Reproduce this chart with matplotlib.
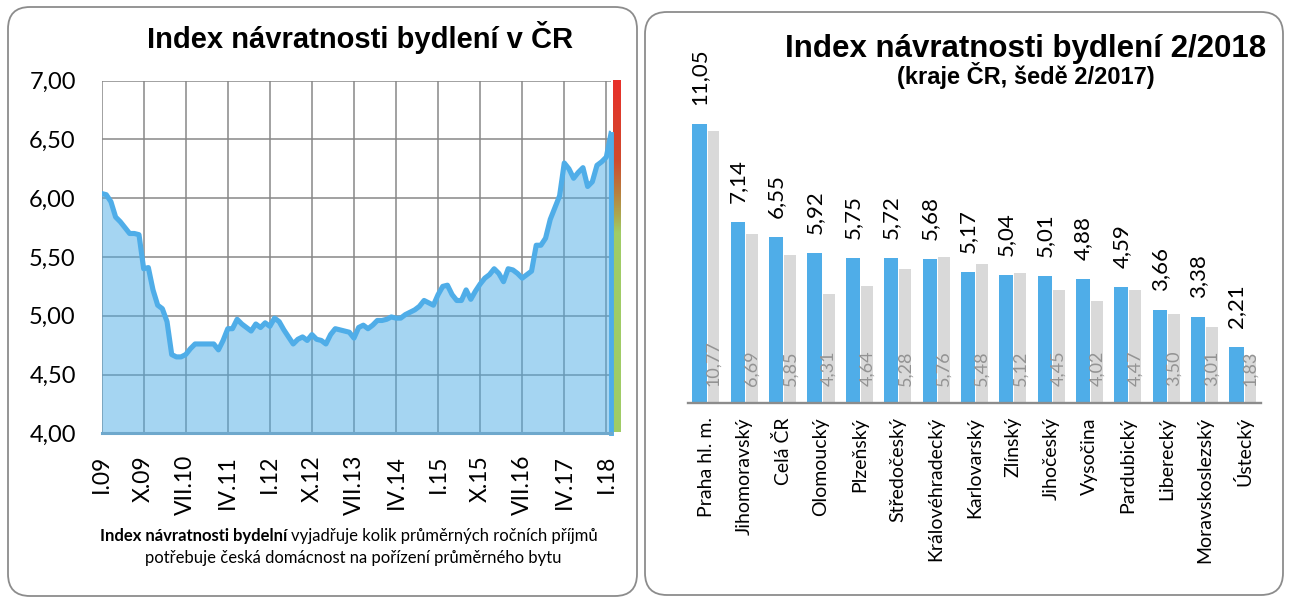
import numpy as np
import matplotlib
matplotlib.use('Agg')
import matplotlib.pyplot as plt
from matplotlib.patches import FancyBboxPatch
from matplotlib.colors import LinearSegmentedColormap

# index navratnosti v CR, mesicne od I.09 do II.18
index_cr = [6.04, 6.03, 5.97, 5.84, 5.80, 5.75, 5.70, 5.70, 5.69, 5.40,
            5.41, 5.22, 5.09, 5.06, 4.95, 4.67, 4.65, 4.65, 4.67, 4.72,
            4.76, 4.76, 4.76, 4.76, 4.76, 4.71, 4.79, 4.89, 4.89, 4.97,
            4.93, 4.90, 4.87, 4.93, 4.90, 4.94, 4.91, 4.98, 4.95, 4.88,
            4.82, 4.76, 4.80, 4.82, 4.79, 4.84, 4.80, 4.79, 4.76, 4.84,
            4.89, 4.88, 4.87, 4.86, 4.81, 4.90, 4.92, 4.89, 4.92, 4.96,
            4.96, 4.97, 4.99, 4.98, 4.98, 5.01, 5.03, 5.05, 5.08, 5.13,
            5.11, 5.09, 5.18, 5.25, 5.26, 5.18, 5.13, 5.13, 5.22, 5.14,
            5.21, 5.27, 5.32, 5.35, 5.40, 5.36, 5.29, 5.40, 5.39, 5.36,
            5.32, 5.35, 5.38, 5.60, 5.60, 5.66, 5.82, 5.92, 6.02, 6.30,
            6.25, 6.17, 6.22, 6.26, 6.10, 6.14, 6.28, 6.31, 6.35, 6.55]
tick_labels = ['I.09', 'X.09', 'VII.10', 'IV.11', 'I.12', 'X.12', 'VII.13',
               'IV.14', 'I.15', 'X.15', 'VII.16', 'IV.17', 'I.18']
y_ticks = [4.0, 4.5, 5.0, 5.5, 6.0, 6.5, 7.0]

# kraje
regions = ['Praha hl. m.', 'Jihomoravský', 'Celá ČR', 'Olomoucký', 'Plzeňský',
           'Středočeský', 'Královéhradecký', 'Karlovarský', 'Zlínský',
           'Jihočeský', 'Vysočina', 'Pardubický', 'Liberecký',
           'Moravskoslezský', 'Ústecký']
idx_2018 = [11.05, 7.14, 6.55, 5.92, 5.75, 5.72, 5.68, 5.17, 5.04, 5.01,
            4.88, 4.59, 3.66, 3.38, 2.21]
idx_2017 = [10.77, 6.69, 5.85, 4.31, 4.64, 5.28, 5.76, 5.48, 5.12, 4.45,
            4.02, 4.47, 3.50, 3.01, 1.83]


def cz(v):
    return f'{v:.2f}'.replace('.', ',')


W, H = 1292, 604
BLUE = '#4FADE8'
GRID = '#878787'
BODY = ['Lato', 'DejaVu Sans']
TITLE = ['Liberation Sans', 'DejaVu Sans']

plt.rcParams['font.family'] = BODY

fig = plt.figure(figsize=(W / 100, H / 100), dpi=100)


def rect(x0, y0, x1, y1):
    return [x0 / W, 1 - y1 / H, (x1 - x0) / W, (y1 - y0) / H]


# pozadi v pixelech - ramecky, nadpisy, poznamka
bg = fig.add_axes([0, 0, 1, 1])
bg.axis('off')
for (x0, y0, x1, y1) in [(8, 7, 637, 596), (645, 12, 1283, 595)]:
    bg.add_patch(FancyBboxPatch((x0, y0), x1 - x0, y1 - y0,
                                boxstyle='round,pad=0,rounding_size=22',
                                fc='white', ec='#8C8C8C', lw=1.3, zorder=1))

bg.text(360, 48.3, 'Index návratnosti bydlení v ČR', ha='center', va='baseline',
        fontsize=21, weight='bold', family=TITLE)
bg.text(1025.5, 56.7, 'Index návratnosti bydlení 2/2018', ha='center',
        va='baseline', fontsize=22.5, weight='bold', family=TITLE)
bg.text(1026, 84, '(kraje ČR, šedě 2/2017)', ha='center', va='baseline',
        fontsize=17, weight='bold', family=TITLE)

bg.text(287, 541, 'Index návratnosti bydelní', ha='right', va='baseline',
        fontsize=12, weight='bold')
bg.text(291, 541, 'vyjadřuje kolik průměrných ročních příjmů', ha='left',
        va='baseline', fontsize=12)
bg.text(353, 563, 'potřebuje česká domácnost na pořízení průměrného bytu',
        ha='center', va='baseline', fontsize=12)

# barevny pruh vpravo od grafu
cmap = LinearSegmentedColormap.from_list('semafor', [
    (0.0, '#A0CC66'), (0.567, '#A0CC66'), (0.613, '#ABAA50'),
    (0.68, '#B8803E'), (0.773, '#D04A2E'), (1.0, '#E8302A')])
grad = np.linspace(0, 1, 256).reshape(-1, 1)
bg.imshow(grad, cmap=cmap, extent=(613, 621, 432, 80.7), origin='lower',
          aspect='auto', zorder=3)
bg.set_xlim(0, W)
bg.set_ylim(H, 0)

# levy graf
m = np.arange(len(index_cr))
ax1 = fig.add_axes(rect(101.6, 80.7, 611, 433.3))
ax1.set_facecolor('none')
ax1.fill_between(m, 4, index_cr, color='#4DACE6', alpha=0.5, lw=0, zorder=2)
ax1.plot(m, index_cr, color=BLUE, lw=3.7, solid_joinstyle='round', zorder=3)
ax1.plot([m[-1], m[-1]], [4, index_cr[-1]], color=BLUE, lw=3.5, zorder=3,
         clip_on=False)
ax1.plot([m[0], m[-1]], [4, 4], color='#6FA8CC', lw=2.2, zorder=3, clip_on=False)
ax1.set_xlim(0, m[-1])
ax1.set_ylim(4, 7)
ax1.set_xticks(np.arange(0, 9 * len(tick_labels), 9))
ax1.set_xticklabels(tick_labels, rotation=90, fontsize=16.5)
ax1.set_yticks(y_ticks)
ax1.set_yticklabels([cz(v) for v in y_ticks], fontsize=17)
ax1.grid(True, color=GRID, lw=1.1)
ax1.set_axisbelow(True)
for s in ax1.spines.values():
    s.set_visible(False)
ax1.tick_params(axis='x', length=0, pad=15.6)
ax1.tick_params(axis='y', length=0, pad=18.6)

# pravy graf
x = np.arange(len(regions))
ax2 = fig.add_axes(rect(688, 99.7, 1261, 402.7))
ax2.set_facecolor('none')
ax2.bar(x - 0.17, idx_2018, width=0.37, color=BLUE, zorder=2)
ax2.bar(x + 0.195, idx_2017, width=0.31, color='#D9D9D9', zorder=2)
for xi, v in zip(x, idx_2018):
    ax2.annotate(cz(v), (xi - 0.17, v), xytext=(0, 19), textcoords='offset pixels',
                 rotation=90, ha='center', va='bottom', fontsize=16)
for xi, v in zip(x, idx_2017):
    ax2.annotate(cz(v), (xi + 0.195, 0), xytext=(0, 17), textcoords='offset pixels',
                 rotation=90, ha='center', va='bottom', fontsize=13,
                 color='#939393', zorder=3)
ax2.set_xlim(-0.47, 14.47)
ax2.set_ylim(0, 12)
ax2.set_yticks([])
ax2.set_xticks(x)
ax2.set_xticklabels(regions, rotation=90, fontsize=14)
for s in ['top', 'left', 'right']:
    ax2.spines[s].set_visible(False)
ax2.spines['bottom'].set_color('#8C8C8C')
ax2.spines['bottom'].set_linewidth(1.7)
ax2.tick_params(axis='x', length=0, pad=10.3)

fig.savefig('out.png', dpi=100)
